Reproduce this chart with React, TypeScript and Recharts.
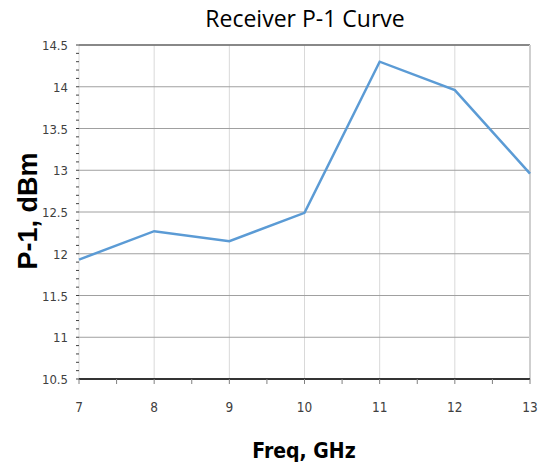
import React from 'react';
import { LineChart, Line, XAxis, YAxis, CartesianGrid, ReferenceLine } from 'recharts';

const freqs = [7, 8, 9, 10, 11, 12, 13];
const p1 = [11.93, 12.27, 12.15, 12.49, 14.3, 13.96, 12.96];

const xTicks = [7, 7.5, 8, 8.5, 9, 9.5, 10, 10.5, 11, 11.5, 12, 12.5, 13];
const xMajor = [7, 8, 9, 10, 11, 12, 13];
const yMajor = [10.5, 11, 11.5, 12, 12.5, 13, 13.5, 14, 14.5];
const yTicks = [
  10.5, 10.6, 10.7, 10.8, 10.9, 11, 11.1, 11.2, 11.3, 11.4, 11.5, 11.6, 11.7, 11.8, 11.9,
  12, 12.1, 12.2, 12.3, 12.4, 12.5, 12.6, 12.7, 12.8, 12.9, 13, 13.1, 13.2, 13.3, 13.4,
  13.5, 13.6, 13.7, 13.8, 13.9, 14, 14.1, 14.2, 14.3, 14.4, 14.5,
];

const data = freqs.map((f, i) => ({ freq: f, value: p1[i] }));

const tickFont = '"Liberation Sans Narrow", "DejaVu Sans Condensed", sans-serif';

const XTick = (props: any) => {
  const { x, y, payload } = props;
  if (!Number.isInteger(payload.value)) return <g />;
  return (
    <text x={x} y={y + 26} textAnchor="middle" fontSize={13.5} fill="#404040" fontFamily={tickFont}>
      {payload.value}
    </text>
  );
};

const YTick = (props: any) => {
  const { x, y, payload } = props;
  const v = payload.value;
  if (Math.abs(v * 2 - Math.round(v * 2)) > 1e-6) return <g />;
  return (
    <text x={x - 6} y={y + 5} textAnchor="end" fontSize={13} fill="#404040" fontFamily={tickFont}>
      {v}
    </text>
  );
};

const W = 544;
const H = 467;

export default function App() {
  return (
    <div style={{ position: 'absolute', left: 0, top: 0, width: W, height: H, background: '#fff' }}>
      <LineChart width={W} height={H} data={data} margin={{ top: 45, right: 14, bottom: 58, left: 39 }}>
        <CartesianGrid horizontal={false} verticalValues={xMajor} stroke="#d9d9d9" strokeWidth={1} />
        <CartesianGrid vertical={false} horizontalValues={yMajor} stroke="#a0a0a0" strokeWidth={1} />
        <XAxis
          dataKey="freq"
          type="number"
          domain={[7, 13]}
          ticks={xTicks}
          interval={0}
          tick={<XTick />}
          tickLine={{ stroke: '#808080' }}
          tickSize={5}
          axisLine={{ stroke: '#000', strokeWidth: 1.5 }}
          height={30}
        />
        <YAxis
          type="number"
          domain={[10.5, 14.5]}
          ticks={yTicks}
          interval={0}
          tick={<YTick />}
          tickLine={{ stroke: '#404040' }}
          tickSize={3}
          axisLine={false}
          width={40}
        />
        <ReferenceLine y={14.5} stroke="#707070" strokeWidth={1.5} />
        <ReferenceLine x={13} stroke="#cfcfcf" strokeWidth={2} />
        <Line
          type="linear"
          dataKey="value"
          stroke="#5b9bd5"
          strokeWidth={2.5}
          dot={false}
          isAnimationActive={false}
        />
        <text x={305} y={27} textAnchor="middle" fontSize={23} fill="#000" fontFamily='"Open Sans", sans-serif'>
          Receiver P-1 Curve
        </text>
        <text
          x={37}
          y={211}
          transform="rotate(-90 37 211)"
          textAnchor="middle"
          fontSize={27}
          fontWeight="bold"
          fill="#000"
          fontFamily='"Liberation Sans", Arial, sans-serif'
        >
          P-1, dBm
        </text>
        <text
          x={304}
          y={458}
          textAnchor="middle"
          fontSize={21}
          fontWeight="bold"
          fill="#000"
          fontFamily='"DejaVu Sans Condensed", sans-serif'
        >
          Freq, GHz
        </text>
      </LineChart>
    </div>
  );
}
